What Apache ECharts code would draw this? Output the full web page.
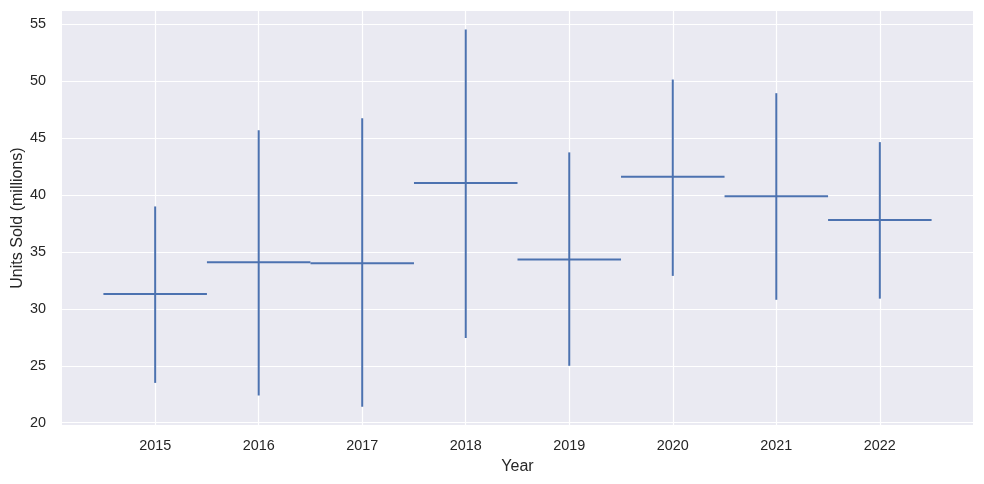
<!DOCTYPE html>
<html lang="en">

<head>
    <meta charset="UTF-8">
    <title>Units Sold</title>
    <script src="https://cdn.jsdelivr.net/npm/echarts@6/dist/echarts.min.js"></script>
    <style>
        body {
            margin: 0;
            background: #fff;
        }

        #chart {
            width: 984px;
            height: 484px;
        }
    </style>
</head>

<body>
    <div id="chart"></div>

    <script>
        // values
        const years = [2015, 2016, 2017, 2018, 2019, 2020, 2021, 2022]
        const means = [31.3, 34.1, 34.0, 41.05, 34.35, 41.6, 39.9, 37.8]
        const lows = [23.5, 22.4, 21.4, 27.45, 25.0, 32.9, 30.8, 30.9]
        const highs = [39.0, 45.7, 46.75, 54.55, 43.75, 50.15, 48.95, 44.65]
        const yTicks = [20, 25, 30, 35, 40, 45, 50, 55]

        const halfWidth = 0.5
        const font = '"Liberation Sans", Arial, sans-serif'
        const textColor = '#262626'
        const lineColor = '#4c72b0'

        function drawChart() {
            var myChart = echarts.init(document.getElementById('chart'))

            var option = {
                animation: false,
                backgroundColor: '#ffffff',
                grid: {
                    left: 62,
                    right: 11,
                    top: 11,
                    bottom: 59,
                    containLabel: false,
                    outerBoundsMode: 'none',
                    show: true,
                    backgroundColor: '#eaeaf2',
                    borderWidth: 0
                },
                xAxis: {
                    type: 'value',
                    min: 2014.1,
                    max: 2022.9,
                    name: 'Year',
                    nameLocation: 'middle',
                    nameGap: 34,
                    nameMoveOverlap: false,
                    nameTextStyle: { color: textColor, fontSize: 16, fontFamily: font },
                    axisLine: { show: false },
                    axisTick: { show: false, customValues: years },
                    axisLabel: {
                        customValues: years,
                        margin: 14,
                        color: textColor,
                        fontSize: 14.4,
                        fontFamily: font,
                        formatter: v => String(v)
                    },
                    splitLine: { show: true, lineStyle: { color: '#ffffff', width: 1.2 } }
                },
                yAxis: {
                    type: 'value',
                    min: 19.8,
                    max: 56.17,
                    name: 'Units Sold (millions)',
                    nameLocation: 'middle',
                    nameGap: 36,
                    nameMoveOverlap: false,
                    nameTextStyle: { color: textColor, fontSize: 16, fontFamily: font },
                    axisLine: { show: false },
                    axisTick: { show: false, customValues: yTicks },
                    axisLabel: {
                        customValues: yTicks,
                        margin: 16,
                        color: textColor,
                        fontSize: 14.4,
                        fontFamily: font,
                        formatter: v => String(v)
                    },
                    splitLine: { show: true, lineStyle: { color: '#ffffff', width: 1.2 } }
                },
                series: [
                    {
                        type: 'custom',
                        data: years.map((y, i) => [y, means[i], lows[i], highs[i]]),
                        renderItem: function (params, api) {
                            const x = api.value(0)
                            const m = api.value(1)
                            const lo = api.coord([x, api.value(2)])
                            const hi = api.coord([x, api.value(3)])
                            const left = api.coord([x - halfWidth, m])
                            const right = api.coord([x + halfWidth, m])
                            const style = { stroke: lineColor, lineWidth: 2 }
                            return {
                                type: 'group',
                                children: [
                                    { type: 'line', shape: { x1: lo[0], y1: lo[1], x2: hi[0], y2: hi[1] }, style: style },
                                    { type: 'line', shape: { x1: left[0], y1: left[1], x2: right[0], y2: right[1] }, style: style }
                                ]
                            }
                        }
                    }
                ]
            }

            myChart.setOption(option)
        }

        drawChart()
    </script>
</body>

</html>
